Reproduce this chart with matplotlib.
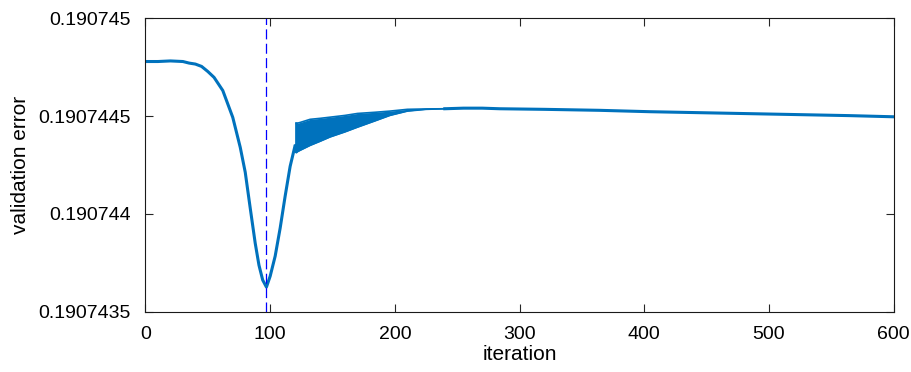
import numpy as np
import matplotlib.pyplot as plt

# smooth part of the curve before the oscillations start
head_iter = [0, 10, 20, 30, 35, 40, 45, 50, 55, 62, 70, 76, 80, 84, 88, 91, 94, 97,
             100, 104, 108, 112, 116, 120]
head_err = [0.190744778, 0.190744778, 0.190744781, 0.190744778, 0.190744770,
            0.190744765, 0.190744753, 0.190744727, 0.190744697, 0.190744630,
            0.190744493, 0.190744340, 0.190744213, 0.190744030, 0.190743851,
            0.190743739, 0.190743663, 0.190743627, 0.190743683, 0.190743785,
            0.190743928, 0.190744091, 0.190744243, 0.190744350]

# oscillating section: upper / lower envelope
osc_iter = [121, 124, 132, 140, 148, 160, 170, 184, 196, 210, 225, 240]
osc_upper = [0.190744462, 0.190744467, 0.190744483, 0.190744488, 0.190744494,
             0.190744503, 0.190744513, 0.190744519, 0.190744525, 0.190744534,
             0.190744536, 0.190744537]
osc_lower = [0.190744315, 0.190744325, 0.190744350, 0.190744371, 0.190744393,
             0.190744419, 0.190744443, 0.190744475, 0.190744503, 0.190744525,
             0.190744534, 0.190744537]

# slow drift after the oscillations die out
tail_iter = [240, 255, 270, 284, 320, 364, 404, 444, 484, 524, 564, 600]
tail_err = [0.190744537, 0.190744540, 0.190744540, 0.190744537, 0.190744534,
            0.190744529, 0.190744522, 0.190744517, 0.190744512, 0.190744507,
            0.190744502, 0.190744496]

best_iter = 97

plt.rcParams['font.family'] = ['Liberation Sans', 'DejaVu Sans']
blue = '#0072BD'

fig = plt.figure(figsize=(9.12, 3.72), dpi=100)
ax = fig.add_axes([0.1595, 0.1613, 0.8205, 0.7903])

ax.plot(head_iter, head_err, color=blue, lw=2.2, solid_capstyle='butt')
ax.fill_between(osc_iter, osc_lower, osc_upper, color=blue, lw=0)
ax.plot(osc_iter, osc_upper, color=blue, lw=1.2)
ax.plot(osc_iter, osc_lower, color=blue, lw=1.2)
ax.plot([head_iter[-1], osc_iter[0], osc_iter[0]],
        [head_err[-1], osc_lower[0], osc_upper[0]], color=blue, lw=1.8)
ax.plot(tail_iter, tail_err, color=blue, lw=2.2)

ax.axvline(best_iter, color='#0000FF', lw=0.9, linestyle=(0, (8, 3.5)))

ax.set_xlim(0, 600)
ax.set_ylim(0.1907435, 0.190745)
ax.set_xticks([0, 100, 200, 300, 400, 500, 600])
ax.set_yticks([0.1907435, 0.190744, 0.1907445, 0.190745])
ax.set_yticklabels(['0.1907435', '0.190744', '0.1907445', '0.190745'])
ax.tick_params(direction='in', length=6, width=0.8, top=True, right=True,
               labelsize=14, colors='#262626', labelcolor='black')
ax.tick_params(axis='x', pad=10)
ax.tick_params(axis='y', pad=10.5)
for s in ax.spines.values():
    s.set_color('#1a1a1a')
    s.set_linewidth(0.8)

ax.set_xlabel('iteration', fontsize=15, labelpad=1.5)
ax.set_ylabel('validation error', fontsize=15, labelpad=6)

fig.savefig('out.png', dpi=100)
